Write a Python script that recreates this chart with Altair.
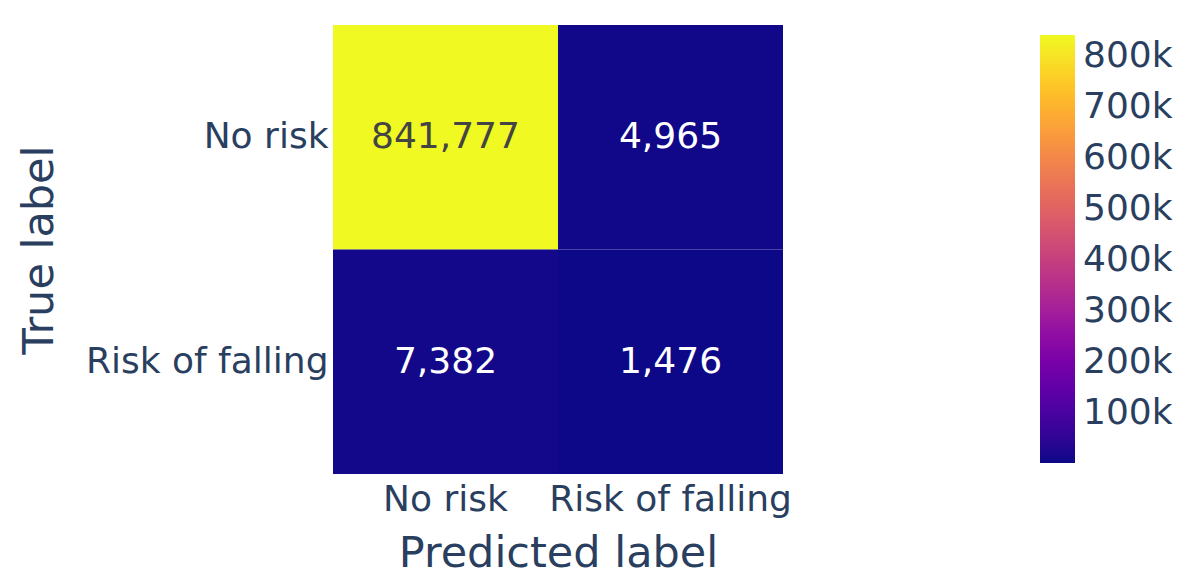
import altair as alt
import pandas as pd

true_labels = ["No risk", "No risk", "Risk of falling", "Risk of falling"]
pred_labels = ["No risk", "Risk of falling", "No risk", "Risk of falling"]
counts = [841777, 4965, 7382, 1476]
order = ["No risk", "Risk of falling"]
legend_ticks = [100000, 200000, 300000, 400000, 500000, 600000, 700000, 800000]

df = pd.DataFrame({"true": true_labels, "pred": pred_labels, "count": counts})

FONT = "DejaVu Sans"
AXC = "#2a3f5f"

base = alt.Chart(df).encode(
    x=alt.X("pred:N", sort=order, title="Predicted label",
            axis=alt.Axis(labelAngle=0, ticks=False, domain=False, labelFontSize=36,
                          titleFontSize=43, labelPadding=8, titlePadding=15, labelLimit=0,
                          labelColor=AXC, titleColor=AXC, labelFont=FONT, titleFont=FONT,
                          titleFontWeight="normal")),
    y=alt.Y("true:N", sort=order, title="True label",
            axis=alt.Axis(ticks=False, domain=False, labelFontSize=36, labelLimit=0,
                          titleFontSize=43, labelPadding=5,
                          titleX=-294, titleY=224.5, titleAngle=-90, titleAlign="center",
                          titleBaseline="middle",
                          labelColor=AXC, titleColor=AXC, labelFont=FONT, titleFont=FONT,
                          titleFontWeight="normal")),
)

rect = base.mark_rect(stroke=None).encode(
    color=alt.Color("count:Q",
                    scale=alt.Scale(scheme="plasma", domain=[min(counts), max(counts)]),
                    legend=alt.Legend(title=None, orient="none", legendX=707, legendY=10,
                                      direction="vertical", gradientLength=428,
                                      gradientThickness=35, values=legend_ticks,
                                      format=".0s", labelFontSize=36, labelFont=FONT,
                                      labelColor=AXC, labelOffset=8,
                                      gradientStrokeWidth=0))
)

text = base.mark_text(fontSize=36, font=FONT).encode(
    text=alt.Text("count:Q", format=",d"),
    color=alt.condition(alt.datum["count"] > 400000, alt.value("#444444"), alt.value("white")),
)

chart = (rect + text).properties(
    width=450, height=449,
    autosize=alt.AutoSizeParams(type="none"),
    padding={"left": 325, "top": 17, "right": 395, "bottom": 102},
).configure_view(stroke=None)

chart.save("out.html", embed_options={"renderer": "svg", "actions": False})
